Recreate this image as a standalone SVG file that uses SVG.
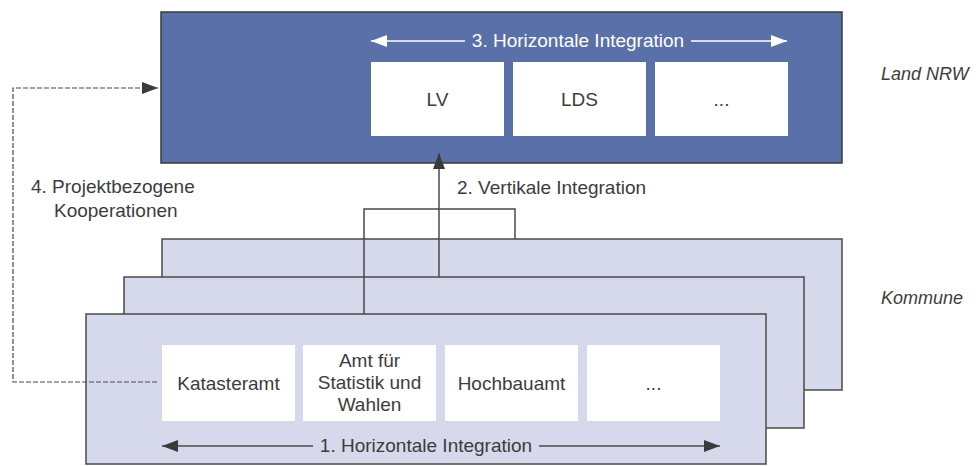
<svg xmlns="http://www.w3.org/2000/svg" width="976" height="466" viewBox="0 0 976 466">
  <style>
    text { font-family: "Liberation Sans", Arial, sans-serif; font-size: 19px; fill: #3c3c3c; }
    .c { text-anchor: middle; }
    .w { fill: #ffffff; }
    .it { font-style: italic; font-size: 18px; }
    .land { fill: #5a70a8; stroke: #3a3a3a; stroke-width: 1.5; }
    .komm { fill: #d6d9eb; stroke: #4a4a4a; stroke-width: 1.5; }
    .box { fill: #ffffff; }
    .ln { stroke: #4a4a4a; stroke-width: 1.5; fill: none; }
    .wl { stroke: #ffffff; stroke-width: 1.5; fill: none; }
    .dash { stroke: #4a4a4a; stroke-width: 1.2; fill: none; stroke-dasharray: 5 2; }
  </style>
  <defs>
    <marker id="ahDark" viewBox="0 0 16 12" refX="16" refY="6" markerWidth="16" markerHeight="12" markerUnits="userSpaceOnUse" orient="auto-start-reverse">
      <path d="M0,0 L16,6 L0,12 Z" fill="#3a3a3a"/>
    </marker>
    <marker id="ahWhite" viewBox="0 0 16 12" refX="16" refY="6" markerWidth="16" markerHeight="12" markerUnits="userSpaceOnUse" orient="auto-start-reverse">
      <path d="M0,0 L16,6 L0,12 Z" fill="#ffffff"/>
    </marker>
  </defs>

  <!-- Land NRW level -->
  <g id="land-nrw">
    <rect class="land" x="161" y="12" width="681" height="151"/>
    <text class="w" x="578" y="47" text-anchor="middle">3. Horizontale Integration</text>
  </g>
  <g id="lv">
    <rect class="box" x="371" y="62" width="133" height="74"/>
    <text class="c" x="437.5" y="106">LV</text>
  </g>
  <g id="lds">
    <rect class="box" x="513" y="62" width="133" height="74"/>
    <text class="c" x="579.5" y="106">LDS</text>
  </g>
  <g id="land-more">
    <rect class="box" x="655" y="62" width="133" height="74"/>
    <text class="c" x="721.5" y="106">...</text>
  </g>

  <!-- Kommune level: stacked sheets -->
  <g id="kommune-back">
    <rect class="komm" x="162" y="239" width="680" height="151"/>
  </g>

  <g id="connectors-upper">
    <!-- 2. vertical integration -->
    <path class="ln" d="M439,277 V153" marker-end="url(#ahDark)"/>
  </g>

  <g id="kommune-middle">
    <rect class="komm" x="124" y="277" width="680" height="151"/>
  </g>

  <g id="connectors">
    <!-- bracket joining the communal sheets -->
    <path class="ln" d="M364,314 V209 H515 V239"/>
  </g>

  <g id="kommune-front">
    <rect class="komm" x="86" y="314" width="680" height="150"/>
  </g>
  <g id="katasteramt">
    <rect class="box" x="162" y="345" width="133" height="76"/>
    <text class="c" x="228.5" y="390">Katasteramt</text>
  </g>
  <g id="amt-statistik">
    <rect class="box" x="303" y="345" width="133" height="76"/>
    <text class="c" x="369.5" y="367">Amt für</text>
    <text class="c" x="369.5" y="389">Statistik und</text>
    <text class="c" x="369.5" y="411">Wahlen</text>
  </g>
  <g id="hochbauamt">
    <rect class="box" x="445" y="345" width="133" height="76"/>
    <text class="c" x="511.5" y="390">Hochbauamt</text>
  </g>
  <g id="kommune-more">
    <rect class="box" x="587" y="345" width="133" height="76"/>
    <text class="c" x="653.5" y="390">...</text>
  </g>

  <g id="edges">
    <!-- 3. horizontal integration (state) -->
    <path class="wl" d="M465,41 H371" marker-end="url(#ahWhite)"/>
    <path class="wl" d="M691,41 H787" marker-end="url(#ahWhite)"/>
    <!-- 1. horizontal integration (communal) -->
    <path class="ln" d="M313,446 H162" marker-end="url(#ahDark)"/>
    <path class="ln" d="M539,446 H720" marker-end="url(#ahDark)"/>
    <text class="c" x="426" y="452">1. Horizontale Integration</text>
    <!-- 4. project-based cooperation -->
    <path class="dash" d="M157,382 H13 V88 H158" marker-end="url(#ahDark)"/>
    <text x="31" y="193">4. Projektbezogene</text>
    <text x="54" y="217">Kooperationen</text>
    <text x="457" y="194">2. Vertikale Integration</text>
  </g>

  <!-- level captions -->
  <text class="it" x="881" y="80">Land NRW</text>
  <text class="it" x="881" y="304">Kommune</text>
</svg>
